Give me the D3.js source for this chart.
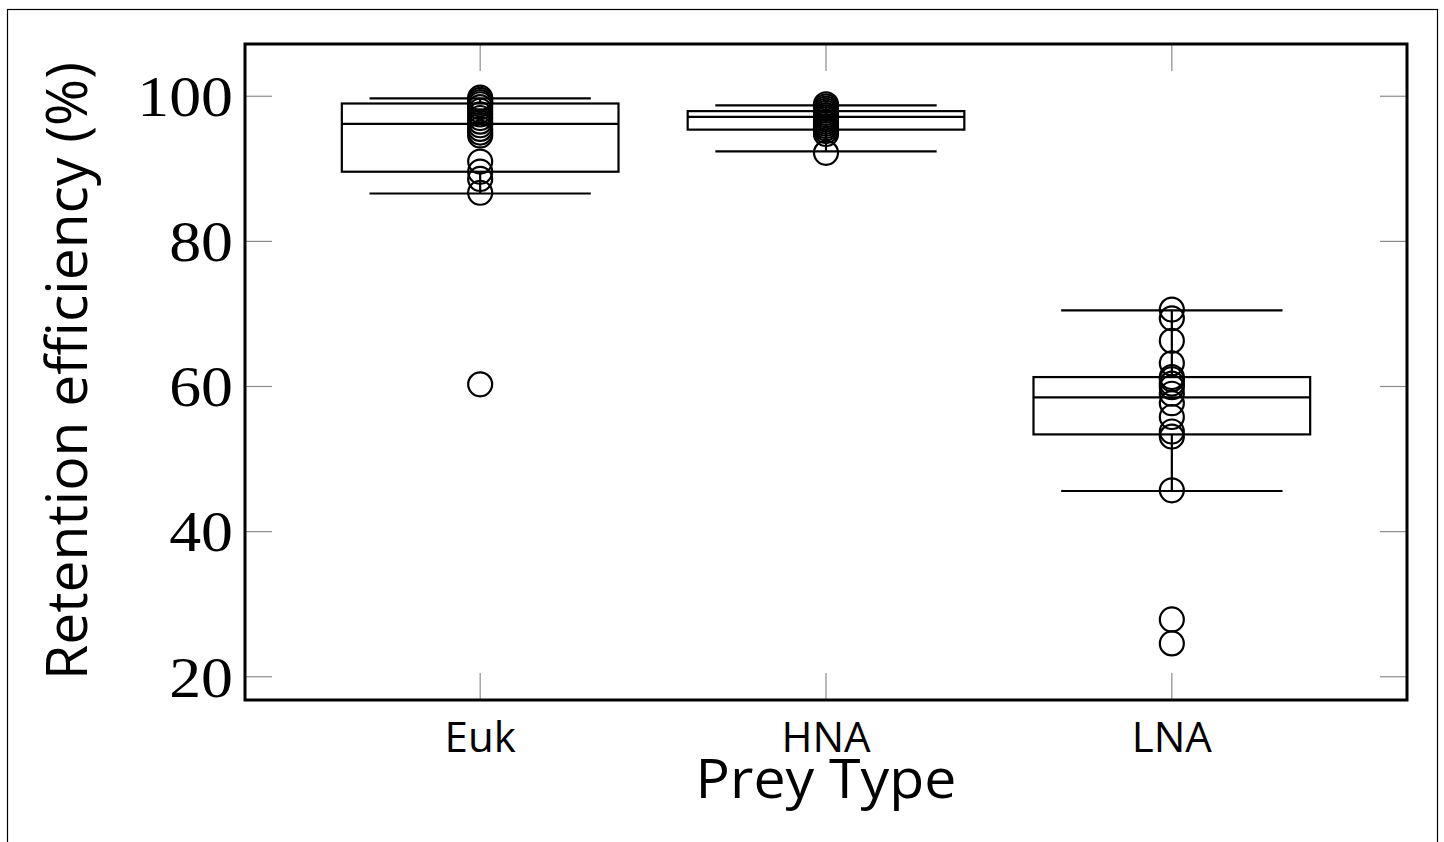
<!DOCTYPE html>
<html>
<head>
<meta charset="utf-8">
<script src="https://cdn.jsdelivr.net/npm/d3@7"></script>
<style>
  html, body { margin: 0; padding: 0; background: #fff; }
  svg { display: block; }
</style>
</head>
<body>
<svg id="chart" width="1444" height="842"></svg>
<script>
// ---- data ----
const categories = ["Euk", "HNA", "LNA"];
const yTicks = [20, 40, 60, 80, 100];

// box statistics as drawn: [whiskerLow, q1, median, q3, whiskerHigh]
const eukBox = [86.6, 89.6, 96.2, 99.0, 99.7];
const hnaBox = [92.4, 95.4, 97.15, 97.95, 98.75];
const lnaBox = [45.6, 53.4, 58.5, 61.3, 70.5];

// individual observations
const eukPoints = [99.8, 99.5, 99.2, 98.9, 98.5, 98.0, 97.5, 97.0, 96.5, 96.0, 95.5, 95.0, 94.6, 91.0, 89.6, 88.6, 86.7, 60.3];
const hnaPoints = [98.9, 98.6, 98.3, 98.0, 97.7, 97.4, 97.1, 96.8, 96.5, 96.2, 95.9, 95.6, 95.2, 94.8, 92.2];
const lnaPoints = [70.6, 69.4, 66.3, 63.2, 61.3, 61.0, 60.4, 59.9, 59.0, 57.7, 55.8, 53.8, 53.1, 45.7, 27.9, 24.6];

const boxes = [eukBox, hnaBox, lnaBox];
const points = [eukPoints, hnaPoints, lnaPoints];

// ---- layout ----
const svg = d3.select("#chart");
const plot = { left: 245, right: 1407, top: 44, bottom: 700 };

const x = d3.scaleLinear().domain([0.32, 3.68]).range([plot.left, plot.right]);
const y = d3.scaleLinear().domain([16.8, 107.2]).range([plot.bottom, plot.top]);

// outer frame
svg.append("rect")
  .attr("x", 7.5).attr("y", 9.5)
  .attr("width", 1430).attr("height", 900)
  .attr("fill", "none").attr("stroke", "#000").attr("stroke-width", 1.2);

// ticks (inward, grey) on all four sides
const tickLen = 27;
const tickColor = "#8c8c8c";
const xPos = categories.map((c, i) => i + 1);

const gTicks = svg.append("g").attr("stroke", tickColor).attr("stroke-width", 1.2);
gTicks.selectAll(".yl").data(yTicks).join("line")
  .attr("x1", plot.left).attr("x2", plot.left + tickLen)
  .attr("y1", d => y(d)).attr("y2", d => y(d));
gTicks.selectAll(".yr").data(yTicks).join("line")
  .attr("x1", plot.right).attr("x2", plot.right - tickLen)
  .attr("y1", d => y(d)).attr("y2", d => y(d));
gTicks.selectAll(".xb").data(xPos).join("line")
  .attr("x1", d => x(d)).attr("x2", d => x(d))
  .attr("y1", plot.bottom).attr("y2", plot.bottom - tickLen);
gTicks.selectAll(".xt").data(xPos).join("line")
  .attr("x1", d => x(d)).attr("x2", d => x(d))
  .attr("y1", plot.top).attr("y2", plot.top + tickLen);

// boxes
const boxW = 0.8, capW = 0.64;
const gBox = svg.append("g").attr("stroke", "#000").attr("stroke-width", 2.2).attr("fill", "none");
boxes.forEach((b, i) => {
  const c = i + 1;
  const [lo, q1, med, q3, hi] = b;
  // whisker stems
  gBox.append("line").attr("x1", x(c)).attr("x2", x(c)).attr("y1", y(q1)).attr("y2", y(lo));
  gBox.append("line").attr("x1", x(c)).attr("x2", x(c)).attr("y1", y(q3)).attr("y2", y(hi));
  // caps
  gBox.append("line").attr("x1", x(c - capW / 2)).attr("x2", x(c + capW / 2)).attr("y1", y(lo)).attr("y2", y(lo));
  gBox.append("line").attr("x1", x(c - capW / 2)).attr("x2", x(c + capW / 2)).attr("y1", y(hi)).attr("y2", y(hi));
  // box
  gBox.append("rect")
    .attr("x", x(c - boxW / 2)).attr("width", x(c + boxW / 2) - x(c - boxW / 2))
    .attr("y", y(q3)).attr("height", y(q1) - y(q3));
  // median
  gBox.append("line").attr("x1", x(c - boxW / 2)).attr("x2", x(c + boxW / 2)).attr("y1", y(med)).attr("y2", y(med));
});

// points
const gPts = svg.append("g").attr("stroke", "#000").attr("stroke-width", 2.2).attr("fill", "none");
points.forEach((arr, i) => {
  gPts.selectAll(null).data(arr).join("circle")
    .attr("cx", x(i + 1)).attr("cy", d => y(d)).attr("r", 12);
});

// plot border
svg.append("rect")
  .attr("x", plot.left).attr("y", plot.top)
  .attr("width", plot.right - plot.left).attr("height", plot.bottom - plot.top)
  .attr("fill", "none").attr("stroke", "#000").attr("stroke-width", 3);

// y tick labels
svg.append("g").selectAll("text").data(yTicks).join("text")
  .attr("transform", d => `translate(${plot.left - 12},${y(d)}) scale(1.1,1)`)
  .attr("dy", "0.34em")
  .attr("text-anchor", "end")
  .attr("font-family", "'Liberation Serif', 'Times New Roman', serif")
  .attr("font-size", 58).attr("fill", "#000")
  .text(d => d);

// x tick labels
svg.append("g").selectAll("text").data(categories).join("text")
  .attr("x", (d, i) => x(i + 1)).attr("y", 752)
  .attr("text-anchor", "middle")
  .attr("font-family", "'Open Sans', sans-serif")
  .attr("font-size", 42).attr("fill", "#000")
  .text(d => d);

// axis titles
svg.append("text")
  .attr("transform", `translate(${x(2)},798) scale(1.06,1)`)
  .attr("text-anchor", "middle")
  .attr("font-family", "'Open Sans', sans-serif")
  .attr("font-size", 54).attr("fill", "#000")
  .text("Prey Type");

svg.append("text")
  .attr("transform", "translate(87,371) rotate(-90)")
  .attr("text-anchor", "middle")
  .attr("font-family", "'Open Sans', sans-serif")
  .attr("font-size", 57).attr("fill", "#000")
  .text("Retention efficiency (%)");
</script>
</body>
</html>
